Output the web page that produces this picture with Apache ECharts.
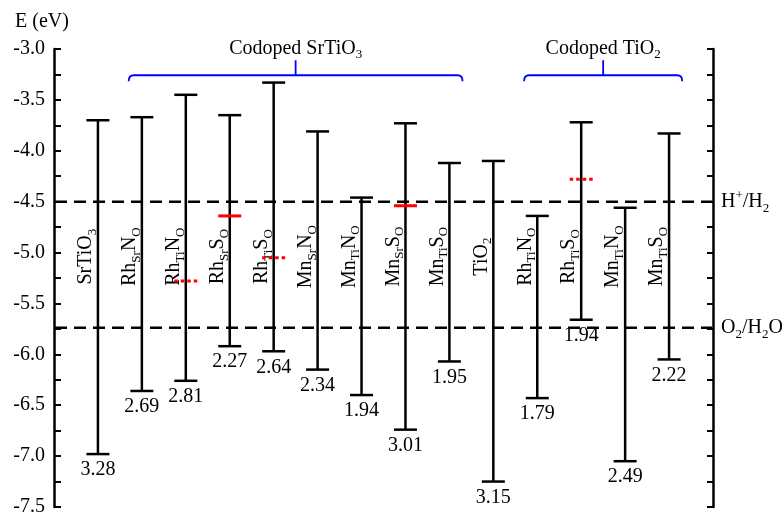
<!DOCTYPE html>
<html><head><meta charset="utf-8">
<script src="https://cdn.jsdelivr.net/npm/echarts@6/dist/echarts.min.js"></script>
<style>html,body{margin:0;padding:0;background:#fff}#c{width:782px;height:517px}</style>
</head><body><div id="c"></div>
<script>
// ---- data ----
const categories = [
  '{m|SrTiO}{s|3}',
  '{m|Rh}{s|Sr}{m|N}{s|O}',
  '{m|Rh}{s|Ti}{m|N}{s|O}',
  '{m|Rh}{s|Sr}{m|S}{s|O}',
  '{m|Rh}{s|Ti}{m|S}{s|O}',
  '{m|Mn}{s|Sr}{m|N}{s|O}',
  '{m|Mn}{s|Ti}{m|N}{s|O}',
  '{m|Mn}{s|Sr}{m|S}{s|O}',
  '{m|Mn}{s|Ti}{m|S}{s|O}',
  '{m|TiO}{s|2}',
  '{m|Rh}{s|Ti}{m|N}{s|O}',
  '{m|Rh}{s|Ti}{m|S}{s|O}',
  '{m|Mn}{s|Ti}{m|N}{s|O}',
  '{m|Mn}{s|Ti}{m|S}{s|O}'
];
const cbm = [-3.70, -3.67, -3.45, -3.65, -3.33, -3.81, -4.46, -3.73, -4.12, -4.10, -4.64, -3.72, -4.56, -3.83];
const vbm = [-6.98, -6.36, -6.26, -5.92, -5.97, -6.15, -6.40, -6.74, -6.07, -7.25, -6.43, -5.66, -7.05, -6.05];
const gapLabels = ['3.28','2.69','2.81','2.27','2.64','2.34','1.94','3.01','1.95','3.15','1.79','1.94','2.49','2.22'];
const impurityIndex = [2, 3, 4, 7, 11];
const impurityLevel = [-5.28, -4.64, -5.05, -4.54, -4.28];
const impurityStyle = ['dotted', 'solid', 'dotted', 'solid', 'dotted'];
const refNames = ['{m|H}{p|+}{m|/H}{s|2}', '{m|O}{s|2}{m|/H}{s|2}{m|O}'];
const refLevels = [-4.5, -5.74];
const groupNames = ['{m|Codoped SrTiO}{s|3}', '{m|Codoped TiO}{s|2}'];
const groupStart = [0.7, 9.7];
const groupEnd = [8.3, 13.3];
const yMin = -7.5, yMax = -3.0, yStep = 0.5;
const yTitle = 'E (eV)';

// ---- styles ----
const FONT = "'Liberation Serif','Times New Roman',serif";
const rich = {
  m: {fontFamily: FONT, fontSize: 20, lineHeight: 26, fill: '#000'},
  s: {fontFamily: FONT, fontSize: 13, lineHeight: 14, verticalAlign: 'bottom', fill: '#000'},
  p: {fontFamily: FONT, fontSize: 13, lineHeight: 14, verticalAlign: 'top', fill: '#000'}
};
const LABEL_E = -5.04;
const BR_E = -3.258;

const chart = echarts.init(document.getElementById('c'), null, {renderer: 'canvas'});

const axisCommon = {
  type: 'value', min: yMin, max: yMax, interval: yStep,
  splitLine: {show: false},
  axisLine: {show: true, onZero: false, lineStyle: {color: '#000', width: 2.5}},
  axisTick: {show: true, inside: true, length: 7, lineStyle: {color: '#000', width: 2}},
  minorTick: {show: true, splitNumber: 2, length: 7, lineStyle: {color: '#000', width: 2}}
};

chart.setOption({
  animation: false,
  backgroundColor: '#fff',
  grid: {left: 54, right: 69, top: 49, bottom: 7},
  xAxis: {type: 'value', min: -1, max: 14, show: false},
  yAxis: [
    Object.assign({}, axisCommon, {
      position: 'left',
      axisLabel: {color: '#000', fontFamily: FONT, fontSize: 20, margin: 9, formatter: v => v.toFixed(1)}
    }),
    Object.assign({}, axisCommon, {
      position: 'right',
      axisTick: {show: true, inside: true, length: 6, lineStyle: {color: '#000', width: 2}},
      minorTick: {show: true, splitNumber: 2, length: 6, lineStyle: {color: '#000', width: 2}},
      axisLabel: {show: false}
    })
  ],
  graphic: [{
    type: 'text', left: 15, top: 12,
    style: {text: yTitle, fill: '#000', font: '20px ' + FONT}
  }],
  series: [
    {
      // reference potential lines
      type: 'custom', silent: true, clip: false, z: 1,
      data: refLevels.map(v => [-1, v]),
      encode: {x: 0, y: 1},
      renderItem(params, api) {
        const v = api.value(1);
        const a = api.coord([-1, v]);
        const b = api.coord([14, v]);
        return {type: 'group', children: [
          {type: 'line', shape: {x1: a[0] + 1, y1: a[1], x2: b[0] - 1, y2: b[1]},
           style: {stroke: '#000', lineWidth: 2.5, lineDash: [12, 7]}},
          {type: 'text', x: b[0] + 8, y: b[1],
           style: {text: refNames[params.dataIndex], rich: rich, align: 'left', verticalAlign: 'middle'}}
        ]};
      }
    },
    {
      // band edges
      type: 'custom', silent: true, clip: false, z: 2,
      data: cbm.map((c, i) => [i, c, vbm[i]]),
      encode: {x: 0, y: [1, 2]},
      renderItem(params, api) {
        const i = api.value(0);
        const t = api.coord([i, api.value(1)]);
        const b = api.coord([i, api.value(2)]);
        const lab = api.coord([i, LABEL_E]);
        const hw = 11.5;
        const st = {stroke: '#000', lineWidth: 2.5};
        return {type: 'group', children: [
          {type: 'line', shape: {x1: t[0], y1: t[1], x2: b[0], y2: b[1]}, style: st},
          {type: 'line', shape: {x1: t[0] - hw, y1: t[1], x2: t[0] + hw, y2: t[1]}, style: st},
          {type: 'line', shape: {x1: b[0] - hw, y1: b[1], x2: b[0] + hw, y2: b[1]}, style: st},
          {type: 'text', x: b[0], y: b[1] + 16,
           style: {text: gapLabels[params.dataIndex], fill: '#000', font: '20px ' + FONT, align: 'center', verticalAlign: 'middle'}},
          {type: 'text', x: lab[0] + 1, y: lab[1], rotation: Math.PI / 2,
           style: {text: categories[params.dataIndex], rich: rich, align: 'center', verticalAlign: 'bottom'}}
        ]};
      }
    },
    {
      // impurity levels
      type: 'custom', silent: true, clip: false, z: 3,
      data: impurityIndex.map((k, j) => [k, impurityLevel[j]]),
      encode: {x: 0, y: 1},
      renderItem(params, api) {
        const p = api.coord([api.value(0), api.value(1)]);
        const dotted = impurityStyle[params.dataIndex] === 'dotted';
        return {type: 'line', shape: {x1: p[0] - 11.5, y1: p[1], x2: p[0] + 11.5, y2: p[1]},
          style: {stroke: '#ff0000', lineWidth: 3, lineDash: dotted ? [3.5, 3] : null}};
      }
    },
    {
      // group brackets
      type: 'custom', silent: true, clip: false, z: 3,
      data: groupStart.map((s, k) => [s, groupEnd[k]]),
      encode: {x: [0, 1]},
      renderItem(params, api) {
        const a = api.coord([api.value(0), BR_E]);
        const b = api.coord([api.value(1), BR_E]);
        const xc = (a[0] + b[0]) / 2, y = a[1];
        const d = 'M' + a[0] + ' ' + (y + 6) + ' Q' + a[0] + ' ' + y + ' ' + (a[0] + 5) + ' ' + y +
          ' L' + (b[0] - 5) + ' ' + y + ' Q' + b[0] + ' ' + y + ' ' + b[0] + ' ' + (y + 6) +
          ' M' + xc + ' ' + y + ' L' + xc + ' ' + (y - 15);
        return {type: 'group', children: [
          {type: 'path', shape: {pathData: d}, style: {stroke: '#0000ff', fill: 'none', lineWidth: 1.8}},
          {type: 'text', x: xc, y: y - 27,
           style: {text: groupNames[params.dataIndex], rich: rich, align: 'center', verticalAlign: 'middle'}}
        ]};
      }
    }
  ]
});
</script>
</body></html>
